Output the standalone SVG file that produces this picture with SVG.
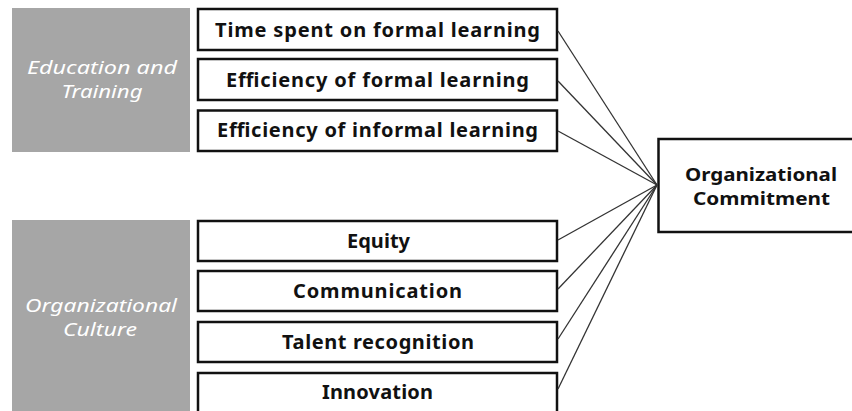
<svg xmlns="http://www.w3.org/2000/svg" width="852" height="411" viewBox="0 0 852 411">
<style>
.grp{fill:#a6a6a6;stroke:none}
.glab{font-family:"Noto Sans","Open Sans",sans-serif;font-style:italic;font-size:17.5px;fill:#ffffff;text-anchor:middle}
.box{fill:#ffffff;stroke:#111111;stroke-width:2.5}
.lab{font-family:"Noto Sans","Open Sans",sans-serif;font-weight:bold;font-size:20px;fill:#111111;text-anchor:middle}
.lab2{font-family:"Noto Sans","Open Sans",sans-serif;font-weight:bold;font-size:17.5px;fill:#111111;text-anchor:middle}
.con{stroke:#333333;stroke-width:1.3;fill:none}
</style>
<rect width="852" height="411" fill="#ffffff"/>
<g id="group-education">
<rect class="grp" x="12" y="8" width="178" height="144"/>
<text class="glab" x="102" y="74" textLength="150" lengthAdjust="spacingAndGlyphs">Education and</text>
<text class="glab" x="102" y="98" textLength="81" lengthAdjust="spacingAndGlyphs">Training</text>
</g>
<g id="group-culture">
<rect class="grp" x="12" y="220" width="178" height="200"/>
<text class="glab" x="101" y="312" textLength="152" lengthAdjust="spacingAndGlyphs">Organizational</text>
<text class="glab" x="100" y="336" textLength="74" lengthAdjust="spacingAndGlyphs">Culture</text>
</g>
<g id="node-time">
<rect class="box" x="198" y="9" width="359" height="41"/>
<text class="lab" x="377.5" y="36.5" textLength="325" lengthAdjust="spacing">Time spent on formal learning</text>
</g>
<g id="node-eff-formal">
<rect class="box" x="198" y="59" width="359" height="41"/>
<text class="lab" x="377.5" y="86.5" textLength="303" lengthAdjust="spacing">Efficiency of formal learning</text>
</g>
<g id="node-eff-informal">
<rect class="box" x="198" y="110.5" width="359" height="40.5"/>
<text class="lab" x="377.5" y="137" textLength="321" lengthAdjust="spacing">Efficiency of informal learning</text>
</g>
<g id="node-equity">
<rect class="box" x="198" y="221" width="359" height="40"/>
<text class="lab" x="378.5" y="248" textLength="63" lengthAdjust="spacing">Equity</text>
</g>
<g id="node-communication">
<rect class="box" x="198" y="271" width="359" height="40"/>
<text class="lab" x="377.5" y="298" textLength="169" lengthAdjust="spacing">Communication</text>
</g>
<g id="node-talent">
<rect class="box" x="198" y="322" width="359" height="40"/>
<text class="lab" x="378" y="349" textLength="192" lengthAdjust="spacing">Talent recognition</text>
</g>
<g id="node-innovation">
<rect class="box" x="198" y="373" width="359" height="50"/>
<text class="lab" x="377.5" y="399" textLength="111" lengthAdjust="spacing">Innovation</text>
</g>
<g id="node-commitment">
<rect class="box" x="658.5" y="139" width="210" height="93"/>
<text class="lab2" x="761" y="181" textLength="152" lengthAdjust="spacingAndGlyphs">Organizational</text>
<text class="lab2" x="761.5" y="205" textLength="137" lengthAdjust="spacingAndGlyphs">Commitment</text>
</g>
<g id="connectors">
<line class="con" x1="558" y1="31" x2="657" y2="185"/>
<line class="con" x1="558" y1="81" x2="657" y2="185"/>
<line class="con" x1="558" y1="131" x2="657" y2="185"/>
<line class="con" x1="558" y1="240" x2="657" y2="185"/>
<line class="con" x1="558" y1="289" x2="657" y2="185"/>
<line class="con" x1="558" y1="339" x2="657" y2="185"/>
<line class="con" x1="558" y1="389" x2="657" y2="185"/>
</g>
</svg>
